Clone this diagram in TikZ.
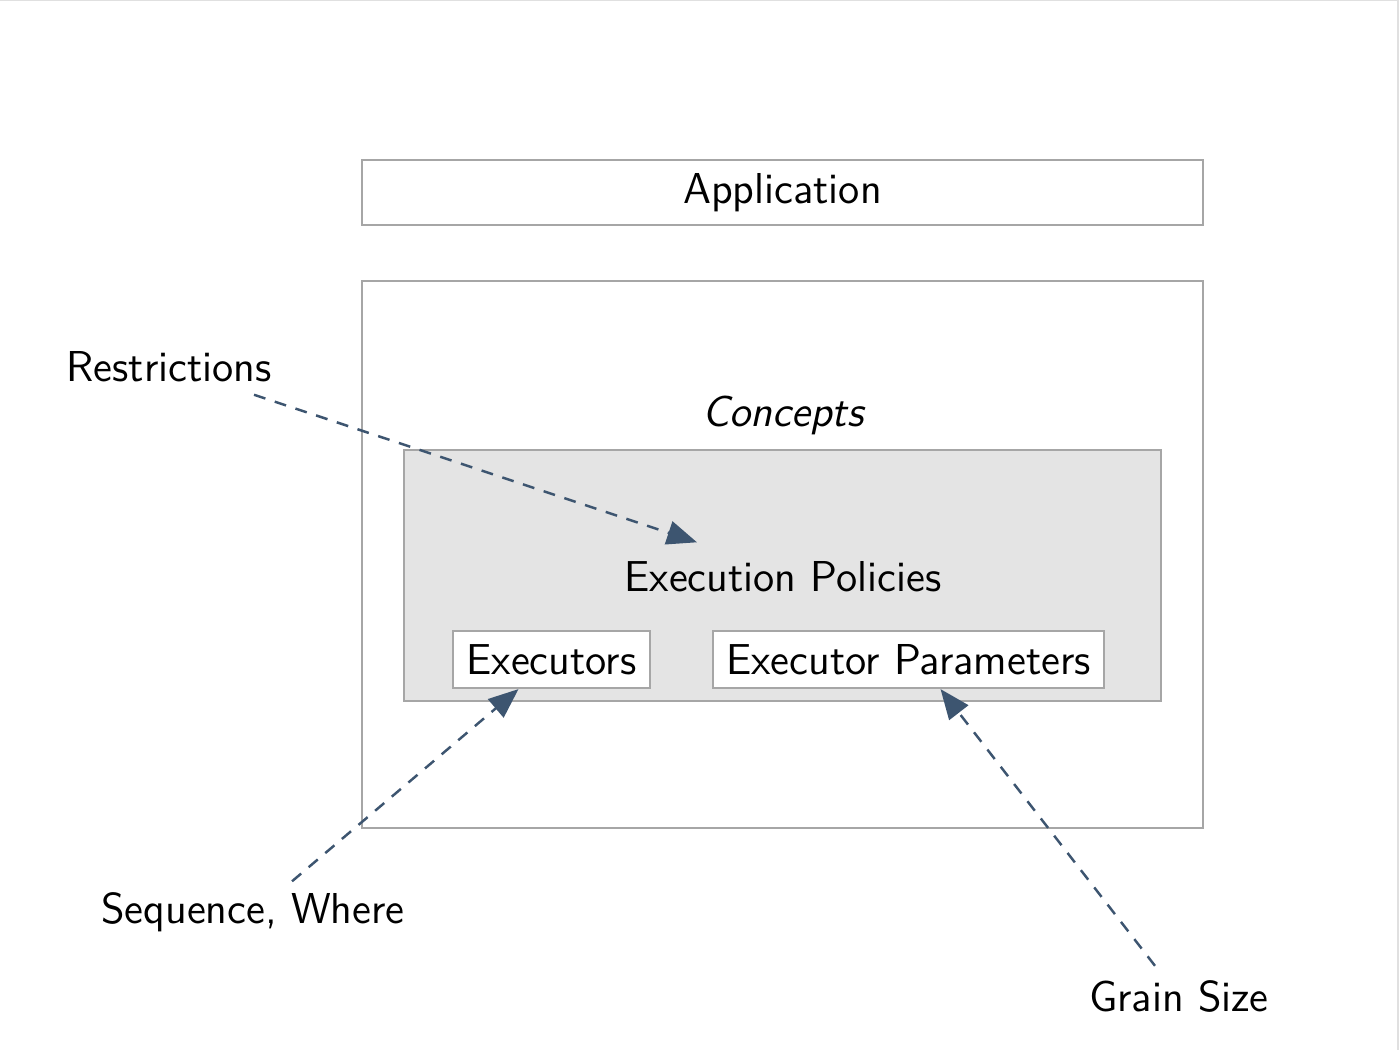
\documentclass[tikz,border=0pt]{standalone}
\usepackage{tikz}
\usetikzlibrary{arrows.meta,calc}
\usepackage{xcolor}
\definecolor{FrameGray}{HTML}{A6A6A6}
\definecolor{PolicyGray}{HTML}{E4E4E4}
\definecolor{ArrowBlue}{HTML}{3D5570}

\begin{document}
\begin{tikzpicture}[x=0.01cm,y=-0.01cm,
    font=\sffamily\fontsize{12.3}{15}\selectfont,
    box/.style={draw=FrameGray,line width=0.6pt,inner sep=0pt},
    label/.style={inner sep=0pt,minimum height=0.56cm},
    flow/.style={draw=ArrowBlue,line width=0.7pt,dash pattern=on 3.4pt off 2.8pt,
        -{Triangle[length=8.5pt,width=6.8pt]}}]
    \useasboundingbox (0,0) rectangle (1400,1050);
    \draw[black!12,line width=0.8pt] (0,0) -- (1398,0) -- (1398,1050);

    \node[box,minimum width=8.41cm,minimum height=0.65cm] (app) at (782.5,192.5) {};
    \node (apptext) at (782.5,193) {Application};
    \node[box,minimum width=8.41cm,minimum height=5.47cm] (outer) at (782.5,554.5) {};
    \node (concepts) at (783,415) {\itshape Concepts};
    \node[box,fill=PolicyGray,minimum width=7.57cm,minimum height=2.51cm] (inner) at (782.5,575.5) {};
    \node[label] (pol) at (783,576.5) {Execution Policies};
    \node[box,fill=white,minimum width=1.97cm,minimum height=0.57cm] (exec) at (551.5,659.5) {Executors};
    \node[box,fill=white,minimum width=3.91cm,minimum height=0.57cm] (param) at (908.5,659.5) {Executor Parameters};

    \node[label] (restr) at (169,366.5) {Restrictions};
    \node[label] (seq) at (253,912) {Sequence, Where};
    \node[label] (grain) at (1179,996.5) {Grain Size};

    \draw[flow] ([xshift=0.85cm,yshift=0.005cm]restr.south) -- ([xshift=-0.86cm,yshift=0.055cm]pol.north);
    \draw[flow] ([xshift=0.39cm,yshift=0.02cm]seq.north) -- ([xshift=-0.33cm]exec.south);
    \draw[flow] ([xshift=-0.24cm,yshift=0.02cm]grain.north) -- ([xshift=0.32cm]param.south);
\end{tikzpicture}
\end{document}
